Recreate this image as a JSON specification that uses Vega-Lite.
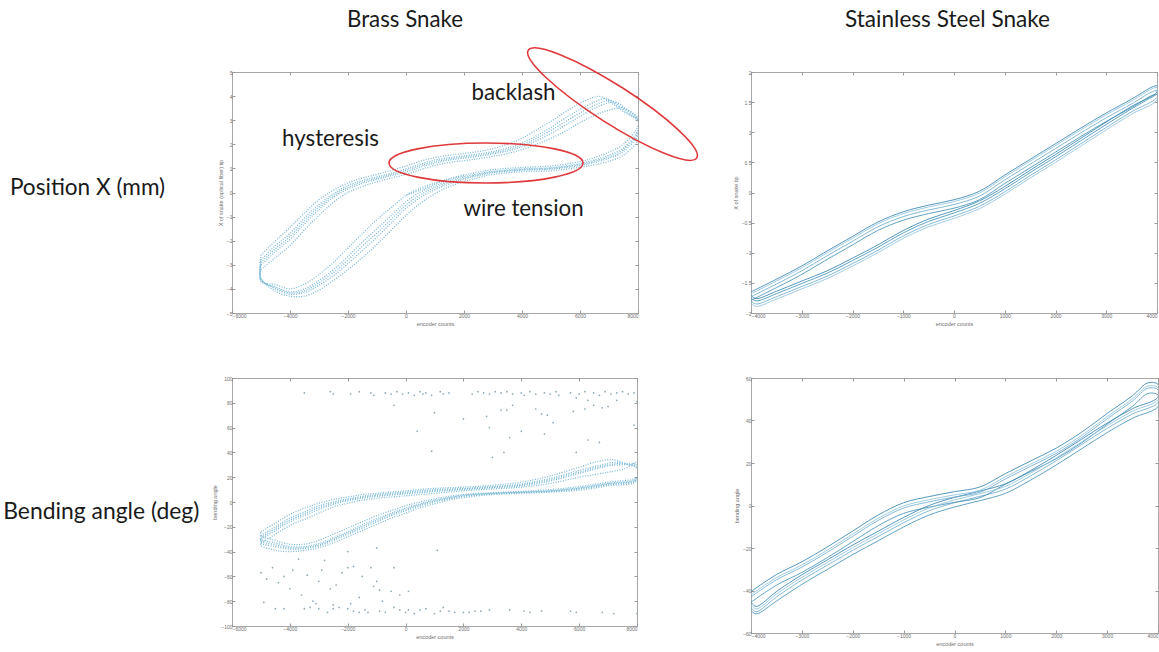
{
"$schema":"https://vega.github.io/schema/vega-lite/v6.json",
"padding":0,
"background":"white",
"config":{
 "view":{"stroke":"#a8a8a8","strokeWidth":1},
 "axis":{"grid":false,"domain":false,"labelFont":"Liberation Sans","labelFontSize":5,"labelColor":"#6f6f6f","titleFont":"Liberation Sans","titleFontSize":5.5,"titleFontWeight":"normal","titleColor":"#6f6f6f","tickColor":"#9a9a9a","tickSize":-3,"labelPadding":3,"titlePadding":3},
 "text":{"font":"Lato"}
},
"datasets":{
 "brassX":[
  {"l":"A","x":-5000,"y":-2.6},{"l":"A","x":-4500,"y":-2.0},{"l":"A","x":-4000,"y":-1.45},{"l":"A","x":-3500,"y":-0.85},{"l":"A","x":-3000,"y":-0.3},{"l":"A","x":-2500,"y":0.1},{"l":"A","x":-2000,"y":0.4},{"l":"A","x":-1500,"y":0.6},{"l":"A","x":-1000,"y":0.75},{"l":"A","x":-500,"y":0.92},{"l":"A","x":0,"y":1.1},{"l":"A","x":500,"y":1.3},{"l":"A","x":1000,"y":1.45},{"l":"A","x":1500,"y":1.55},{"l":"A","x":2000,"y":1.62},{"l":"A","x":2500,"y":1.7},{"l":"A","x":3000,"y":1.82},{"l":"A","x":3500,"y":2.0},{"l":"A","x":4000,"y":2.25},{"l":"A","x":4500,"y":2.6},{"l":"A","x":5000,"y":2.95},{"l":"A","x":5500,"y":3.35},{"l":"A","x":6000,"y":3.7},{"l":"A","x":6400,"y":3.92},{"l":"A","x":6700,"y":3.98},{"l":"A","x":7100,"y":3.7},{"l":"A","x":7500,"y":3.35},{"l":"A","x":8000,"y":2.95},{"l":"A","x":8000,"y":2.2},
  {"l":"A","x":7500,"y":1.55},{"l":"A","x":7000,"y":1.3},{"l":"A","x":6500,"y":1.15},{"l":"A","x":6000,"y":1.05},{"l":"A","x":5000,"y":0.9},{"l":"A","x":4000,"y":0.86},{"l":"A","x":3000,"y":0.75},{"l":"A","x":2500,"y":0.62},{"l":"A","x":2000,"y":0.45},{"l":"A","x":1500,"y":0.25},{"l":"A","x":1000,"y":-0.05},{"l":"A","x":500,"y":-0.45},{"l":"A","x":0,"y":-0.95},{"l":"A","x":-500,"y":-1.55},{"l":"A","x":-1000,"y":-2.15},{"l":"A","x":-1500,"y":-2.7},{"l":"A","x":-2000,"y":-3.2},{"l":"A","x":-2500,"y":-3.65},{"l":"A","x":-3000,"y":-4.05},{"l":"A","x":-3500,"y":-4.3},{"l":"A","x":-4000,"y":-4.3},{"l":"A","x":-4500,"y":-4.1},{"l":"A","x":-5000,"y":-3.55},{"l":"A","x":-5000,"y":-2.6},
  {"l":"B","x":-5000,"y":-2.8},{"l":"B","x":-4500,"y":-2.2},{"l":"B","x":-4000,"y":-1.7},{"l":"B","x":-3500,"y":-1.05},{"l":"B","x":-3000,"y":-0.5},{"l":"B","x":-2500,"y":-0.05},{"l":"B","x":-2000,"y":0.3},{"l":"B","x":-1500,"y":0.5},{"l":"B","x":-1000,"y":0.65},{"l":"B","x":-500,"y":0.8},{"l":"B","x":0,"y":0.98},{"l":"B","x":500,"y":1.18},{"l":"B","x":1000,"y":1.35},{"l":"B","x":1500,"y":1.45},{"l":"B","x":2000,"y":1.52},{"l":"B","x":2500,"y":1.6},{"l":"B","x":3000,"y":1.7},{"l":"B","x":3500,"y":1.85},{"l":"B","x":4000,"y":2.05},{"l":"B","x":4500,"y":2.35},{"l":"B","x":5000,"y":2.7},{"l":"B","x":5500,"y":3.1},{"l":"B","x":6000,"y":3.45},{"l":"B","x":6500,"y":3.75},{"l":"B","x":6900,"y":3.9},{"l":"B","x":7300,"y":3.6},{"l":"B","x":7700,"y":3.25},{"l":"B","x":8000,"y":3.0},{"l":"B","x":8000,"y":2.4},
  {"l":"B","x":7500,"y":1.7},{"l":"B","x":7000,"y":1.42},{"l":"B","x":6500,"y":1.25},{"l":"B","x":6000,"y":1.12},{"l":"B","x":5000,"y":0.97},{"l":"B","x":4000,"y":0.92},{"l":"B","x":3000,"y":0.82},{"l":"B","x":2500,"y":0.7},{"l":"B","x":2000,"y":0.55},{"l":"B","x":1500,"y":0.35},{"l":"B","x":1000,"y":0.12},{"l":"B","x":500,"y":-0.2},{"l":"B","x":0,"y":-0.65},{"l":"B","x":-500,"y":-1.25},{"l":"B","x":-1000,"y":-1.85},{"l":"B","x":-1500,"y":-2.4},{"l":"B","x":-2000,"y":-2.95},{"l":"B","x":-2500,"y":-3.45},{"l":"B","x":-3000,"y":-3.85},{"l":"B","x":-3500,"y":-4.15},{"l":"B","x":-4000,"y":-4.22},{"l":"B","x":-4500,"y":-4.0},{"l":"B","x":-5000,"y":-3.6},{"l":"B","x":-5000,"y":-2.8},
  {"l":"E","x":-5000,"y":-2.9},{"l":"E","x":-4500,"y":-2.33},{"l":"E","x":-4000,"y":-1.83},{"l":"E","x":-3500,"y":-1.18},{"l":"E","x":-3000,"y":-0.6},{"l":"E","x":-2500,"y":-0.12},{"l":"E","x":-2000,"y":0.22},{"l":"E","x":-1500,"y":0.44},{"l":"E","x":-1000,"y":0.6},{"l":"E","x":-500,"y":0.75},{"l":"E","x":0,"y":0.92},{"l":"E","x":500,"y":1.12},{"l":"E","x":1000,"y":1.28},{"l":"E","x":1500,"y":1.4},{"l":"E","x":2000,"y":1.47},{"l":"E","x":2500,"y":1.55},{"l":"E","x":3000,"y":1.65},{"l":"E","x":3500,"y":1.78},{"l":"E","x":4000,"y":1.97},{"l":"E","x":4500,"y":2.25},{"l":"E","x":5000,"y":2.58},{"l":"E","x":5500,"y":2.95},{"l":"E","x":6000,"y":3.3},{"l":"E","x":6500,"y":3.62},{"l":"E","x":7050,"y":3.82},{"l":"E","x":7450,"y":3.52},{"l":"E","x":7850,"y":3.18},{"l":"E","x":8000,"y":3.05},{"l":"E","x":8000,"y":2.5},
  {"l":"E","x":7500,"y":1.78},{"l":"E","x":7000,"y":1.48},{"l":"E","x":6500,"y":1.3},{"l":"E","x":6000,"y":1.16},{"l":"E","x":5000,"y":1.0},{"l":"E","x":4000,"y":0.95},{"l":"E","x":3000,"y":0.85},{"l":"E","x":2500,"y":0.74},{"l":"E","x":2000,"y":0.6},{"l":"E","x":1500,"y":0.42},{"l":"E","x":1000,"y":0.2},{"l":"E","x":500,"y":-0.09},{"l":"E","x":0,"y":-0.52},{"l":"E","x":-500,"y":-1.1},{"l":"E","x":-1000,"y":-1.68},{"l":"E","x":-1500,"y":-2.22},{"l":"E","x":-2000,"y":-2.8},{"l":"E","x":-2500,"y":-3.32},{"l":"E","x":-3000,"y":-3.75},{"l":"E","x":-3500,"y":-4.08},{"l":"E","x":-4000,"y":-4.17},{"l":"E","x":-4500,"y":-3.96},{"l":"E","x":-5000,"y":-3.62},{"l":"E","x":-5000,"y":-2.9},
  {"l":"C","x":-5000,"y":-3.0},{"l":"C","x":-4500,"y":-2.45},{"l":"C","x":-4000,"y":-1.95},{"l":"C","x":-3500,"y":-1.3},{"l":"C","x":-3000,"y":-0.7},{"l":"C","x":-2500,"y":-0.2},{"l":"C","x":-2000,"y":0.15},{"l":"C","x":-1500,"y":0.38},{"l":"C","x":-1000,"y":0.55},{"l":"C","x":-500,"y":0.7},{"l":"C","x":0,"y":0.85},{"l":"C","x":500,"y":1.05},{"l":"C","x":1000,"y":1.22},{"l":"C","x":1500,"y":1.35},{"l":"C","x":2000,"y":1.42},{"l":"C","x":2500,"y":1.5},{"l":"C","x":3000,"y":1.6},{"l":"C","x":3500,"y":1.72},{"l":"C","x":4000,"y":1.9},{"l":"C","x":4500,"y":2.15},{"l":"C","x":5000,"y":2.45},{"l":"C","x":5500,"y":2.8},{"l":"C","x":6000,"y":3.15},{"l":"C","x":6500,"y":3.5},{"l":"C","x":7200,"y":3.75},{"l":"C","x":7600,"y":3.45},{"l":"C","x":8000,"y":3.1},{"l":"C","x":8000,"y":2.6},
  {"l":"C","x":7500,"y":1.85},{"l":"C","x":7000,"y":1.55},{"l":"C","x":6500,"y":1.35},{"l":"C","x":6000,"y":1.2},{"l":"C","x":5000,"y":1.03},{"l":"C","x":4000,"y":0.98},{"l":"C","x":3000,"y":0.88},{"l":"C","x":2500,"y":0.78},{"l":"C","x":2000,"y":0.65},{"l":"C","x":1500,"y":0.48},{"l":"C","x":1000,"y":0.28},{"l":"C","x":500,"y":0.02},{"l":"C","x":0,"y":-0.38},{"l":"C","x":-500,"y":-0.95},{"l":"C","x":-1000,"y":-1.5},{"l":"C","x":-1500,"y":-2.05},{"l":"C","x":-2000,"y":-2.65},{"l":"C","x":-2500,"y":-3.2},{"l":"C","x":-3000,"y":-3.65},{"l":"C","x":-3500,"y":-4.0},{"l":"C","x":-4000,"y":-4.12},{"l":"C","x":-4500,"y":-3.92},{"l":"C","x":-5000,"y":-3.65},{"l":"C","x":-5000,"y":-3.0},
  {"l":"D","x":-5000,"y":-3.2},{"l":"D","x":-4500,"y":-2.7},{"l":"D","x":-4000,"y":-2.2},{"l":"D","x":-3500,"y":-1.55},{"l":"D","x":-3000,"y":-0.95},{"l":"D","x":-2500,"y":-0.4},{"l":"D","x":-2000,"y":0.0},{"l":"D","x":-1500,"y":0.25},{"l":"D","x":-1000,"y":0.45},{"l":"D","x":-500,"y":0.6},{"l":"D","x":0,"y":0.75},{"l":"D","x":500,"y":0.95},{"l":"D","x":1000,"y":1.12},{"l":"D","x":1500,"y":1.25},{"l":"D","x":2000,"y":1.32},{"l":"D","x":2500,"y":1.4},{"l":"D","x":3000,"y":1.5},{"l":"D","x":3500,"y":1.62},{"l":"D","x":4000,"y":1.78},{"l":"D","x":4500,"y":2.0},{"l":"D","x":5000,"y":2.25},{"l":"D","x":5500,"y":2.55},{"l":"D","x":6000,"y":2.9},{"l":"D","x":6500,"y":3.2},{"l":"D","x":7000,"y":3.42},{"l":"D","x":7500,"y":3.5},{"l":"D","x":8000,"y":3.05},{"l":"D","x":8000,"y":2.75},
  {"l":"D","x":7500,"y":2.0},{"l":"D","x":7000,"y":1.68},{"l":"D","x":6500,"y":1.45},{"l":"D","x":6000,"y":1.28},{"l":"D","x":5000,"y":1.1},{"l":"D","x":4000,"y":1.04},{"l":"D","x":3000,"y":0.95},{"l":"D","x":2500,"y":0.85},{"l":"D","x":2000,"y":0.72},{"l":"D","x":1500,"y":0.58},{"l":"D","x":1000,"y":0.4},{"l":"D","x":500,"y":0.18},{"l":"D","x":0,"y":-0.12},{"l":"D","x":-500,"y":-0.62},{"l":"D","x":-1000,"y":-1.12},{"l":"D","x":-1500,"y":-1.7},{"l":"D","x":-2000,"y":-2.3},{"l":"D","x":-2500,"y":-2.9},{"l":"D","x":-3000,"y":-3.4},{"l":"D","x":-3500,"y":-3.8},{"l":"D","x":-4000,"y":-4.0},{"l":"D","x":-4500,"y":-3.82},{"l":"D","x":-5000,"y":-3.7},{"l":"D","x":-5000,"y":-3.2},
  {"l":"S","x":0,"y":-0.1},{"l":"S","x":500,"y":0.1},{"l":"S","x":1000,"y":0.35},{"l":"S","x":1500,"y":0.55},{"l":"S","x":2000,"y":0.7}
 ],
 "steelX":[
  {"l":"A","x":-4000,"y":-1.65},{"l":"A","x":-3500,"y":-1.44},{"l":"A","x":-3000,"y":-1.22},{"l":"A","x":-2500,"y":-0.97},{"l":"A","x":-2000,"y":-0.73},{"l":"A","x":-1500,"y":-0.49},{"l":"A","x":-1000,"y":-0.32},{"l":"A","x":-500,"y":-0.21},{"l":"A","x":0,"y":-0.12},{"l":"A","x":500,"y":0.02},{"l":"A","x":1000,"y":0.29},{"l":"A","x":1500,"y":0.55},{"l":"A","x":2000,"y":0.81},{"l":"A","x":2500,"y":1.07},{"l":"A","x":3000,"y":1.32},{"l":"A","x":3500,"y":1.55},{"l":"A","x":3900,"y":1.75},{"l":"A","x":4000,"y":1.77},
  {"l":"A","x":4000,"y":1.67},{"l":"A","x":3500,"y":1.43},{"l":"A","x":3000,"y":1.17},{"l":"A","x":2500,"y":0.9},{"l":"A","x":2000,"y":0.63},{"l":"A","x":1500,"y":0.37},{"l":"A","x":1000,"y":0.1},{"l":"A","x":500,"y":-0.14},{"l":"A","x":0,"y":-0.3},{"l":"A","x":-500,"y":-0.44},{"l":"A","x":-1000,"y":-0.63},{"l":"A","x":-1500,"y":-0.87},{"l":"A","x":-2000,"y":-1.09},{"l":"A","x":-2500,"y":-1.3},{"l":"A","x":-3000,"y":-1.47},{"l":"A","x":-3500,"y":-1.64},{"l":"A","x":-3900,"y":-1.76},{"l":"A","x":-4000,"y":-1.71},
  {"l":"B","x":-4000,"y":-1.73},{"l":"B","x":-3500,"y":-1.52},{"l":"B","x":-3000,"y":-1.3},{"l":"B","x":-2500,"y":-1.05},{"l":"B","x":-2000,"y":-0.81},{"l":"B","x":-1500,"y":-0.57},{"l":"B","x":-1000,"y":-0.4},{"l":"B","x":-500,"y":-0.29},{"l":"B","x":0,"y":-0.2},{"l":"B","x":500,"y":-0.06},{"l":"B","x":1000,"y":0.21},{"l":"B","x":1500,"y":0.47},{"l":"B","x":2000,"y":0.73},{"l":"B","x":2500,"y":0.99},{"l":"B","x":3000,"y":1.24},{"l":"B","x":3500,"y":1.47},{"l":"B","x":3900,"y":1.67},{"l":"B","x":4000,"y":1.69},
  {"l":"B","x":4000,"y":1.58},{"l":"B","x":3500,"y":1.34},{"l":"B","x":3000,"y":1.08},{"l":"B","x":2500,"y":0.81},{"l":"B","x":2000,"y":0.54},{"l":"B","x":1500,"y":0.28},{"l":"B","x":1000,"y":0.01},{"l":"B","x":500,"y":-0.23},{"l":"B","x":0,"y":-0.39},{"l":"B","x":-500,"y":-0.53},{"l":"B","x":-1000,"y":-0.72},{"l":"B","x":-1500,"y":-0.96},{"l":"B","x":-2000,"y":-1.18},{"l":"B","x":-2500,"y":-1.39},{"l":"B","x":-3000,"y":-1.56},{"l":"B","x":-3500,"y":-1.73},{"l":"B","x":-3900,"y":-1.85},{"l":"B","x":-4000,"y":-1.8},
  {"l":"C","x":-4000,"y":-1.79},{"l":"C","x":-3500,"y":-1.58},{"l":"C","x":-3000,"y":-1.36},{"l":"C","x":-2500,"y":-1.11},{"l":"C","x":-2000,"y":-0.87},{"l":"C","x":-1500,"y":-0.63},{"l":"C","x":-1000,"y":-0.46},{"l":"C","x":-500,"y":-0.35},{"l":"C","x":0,"y":-0.26},{"l":"C","x":500,"y":-0.12},{"l":"C","x":1000,"y":0.15},{"l":"C","x":1500,"y":0.41},{"l":"C","x":2000,"y":0.67},{"l":"C","x":2500,"y":0.93},{"l":"C","x":3000,"y":1.18},{"l":"C","x":3500,"y":1.41},{"l":"C","x":3900,"y":1.61},{"l":"C","x":4000,"y":1.63},
  {"l":"C","x":4000,"y":1.63},{"l":"C","x":3500,"y":1.39},{"l":"C","x":3000,"y":1.13},{"l":"C","x":2500,"y":0.86},{"l":"C","x":2000,"y":0.59},{"l":"C","x":1500,"y":0.33},{"l":"C","x":1000,"y":0.06},{"l":"C","x":500,"y":-0.18},{"l":"C","x":0,"y":-0.34},{"l":"C","x":-500,"y":-0.48},{"l":"C","x":-1000,"y":-0.67},{"l":"C","x":-1500,"y":-0.91},{"l":"C","x":-2000,"y":-1.13},{"l":"C","x":-2500,"y":-1.34},{"l":"C","x":-3000,"y":-1.51},{"l":"C","x":-3500,"y":-1.68},{"l":"C","x":-3900,"y":-1.8},{"l":"C","x":-4000,"y":-1.75},
  {"l":"D","x":-4000,"y":-1.68},{"l":"D","x":-3500,"y":-1.47},{"l":"D","x":-3000,"y":-1.25},{"l":"D","x":-2500,"y":-1.0},{"l":"D","x":-2000,"y":-0.76},{"l":"D","x":-1500,"y":-0.52},{"l":"D","x":-1000,"y":-0.35},{"l":"D","x":-500,"y":-0.24},{"l":"D","x":0,"y":-0.15},{"l":"D","x":500,"y":-0.01},{"l":"D","x":1000,"y":0.26},{"l":"D","x":1500,"y":0.52},{"l":"D","x":2000,"y":0.78},{"l":"D","x":2500,"y":1.04},{"l":"D","x":3000,"y":1.29},{"l":"D","x":3500,"y":1.52},{"l":"D","x":3900,"y":1.72},{"l":"D","x":4000,"y":1.74},
  {"l":"D","x":4000,"y":1.54},{"l":"D","x":3500,"y":1.3},{"l":"D","x":3000,"y":1.04},{"l":"D","x":2500,"y":0.77},{"l":"D","x":2000,"y":0.5},{"l":"D","x":1500,"y":0.24},{"l":"D","x":1000,"y":-0.03},{"l":"D","x":500,"y":-0.27},{"l":"D","x":0,"y":-0.43},{"l":"D","x":-500,"y":-0.57},{"l":"D","x":-1000,"y":-0.76},{"l":"D","x":-1500,"y":-1.0},{"l":"D","x":-2000,"y":-1.22},{"l":"D","x":-2500,"y":-1.43},{"l":"D","x":-3000,"y":-1.6},{"l":"D","x":-3500,"y":-1.77},{"l":"D","x":-3900,"y":-1.89},{"l":"D","x":-4000,"y":-1.84}
 ],
 "brassA":[
  {"l":"A","x":-5000,"y":-24},{"l":"A","x":-4500,"y":-17},{"l":"A","x":-4000,"y":-10},{"l":"A","x":-3500,"y":-5},{"l":"A","x":-3000,"y":-1},{"l":"A","x":-2500,"y":2},{"l":"A","x":-2000,"y":4},{"l":"A","x":-1500,"y":6},{"l":"A","x":-1000,"y":7},{"l":"A","x":0,"y":9},{"l":"A","x":1000,"y":11},{"l":"A","x":2000,"y":12},{"l":"A","x":3000,"y":13.5},{"l":"A","x":4000,"y":16},{"l":"A","x":5000,"y":21},{"l":"A","x":6000,"y":28},{"l":"A","x":6700,"y":33},{"l":"A","x":7200,"y":34},{"l":"A","x":7600,"y":31},{"l":"A","x":8000,"y":27},{"l":"A","x":8000,"y":20},
  {"l":"A","x":7000,"y":16},{"l":"A","x":6000,"y":12.5},{"l":"A","x":5000,"y":10},{"l":"A","x":4000,"y":8.5},{"l":"A","x":3000,"y":7.5},{"l":"A","x":2000,"y":6},{"l":"A","x":1500,"y":4.5},{"l":"A","x":1000,"y":2.5},{"l":"A","x":500,"y":0},{"l":"A","x":0,"y":-3},{"l":"A","x":-500,"y":-7},{"l":"A","x":-1000,"y":-11},{"l":"A","x":-1500,"y":-16},{"l":"A","x":-2000,"y":-21},{"l":"A","x":-2500,"y":-26},{"l":"A","x":-3000,"y":-31},{"l":"A","x":-3500,"y":-34},{"l":"A","x":-4000,"y":-34},{"l":"A","x":-4500,"y":-31},{"l":"A","x":-5000,"y":-27},{"l":"A","x":-5000,"y":-24},
  {"l":"B","x":-5000,"y":-27},{"l":"B","x":-4500,"y":-20},{"l":"B","x":-4000,"y":-13},{"l":"B","x":-3500,"y":-8},{"l":"B","x":-3000,"y":-3},{"l":"B","x":-2500,"y":0},{"l":"B","x":-2000,"y":2.5},{"l":"B","x":-1500,"y":4.5},{"l":"B","x":-1000,"y":6},{"l":"B","x":0,"y":8},{"l":"B","x":1000,"y":10},{"l":"B","x":2000,"y":11},{"l":"B","x":3000,"y":12.5},{"l":"B","x":4000,"y":14.5},{"l":"B","x":5000,"y":19},{"l":"B","x":6000,"y":25.5},{"l":"B","x":6800,"y":30},{"l":"B","x":7300,"y":32},{"l":"B","x":7700,"y":30},{"l":"B","x":8000,"y":28},{"l":"B","x":8000,"y":19},
  {"l":"B","x":7000,"y":15},{"l":"B","x":6000,"y":11.5},{"l":"B","x":5000,"y":9},{"l":"B","x":4000,"y":8},{"l":"B","x":3000,"y":7},{"l":"B","x":2000,"y":5.5},{"l":"B","x":1500,"y":3.5},{"l":"B","x":1000,"y":1.5},{"l":"B","x":500,"y":-1.5},{"l":"B","x":0,"y":-5},{"l":"B","x":-500,"y":-9},{"l":"B","x":-1000,"y":-13.5},{"l":"B","x":-1500,"y":-18.5},{"l":"B","x":-2000,"y":-24},{"l":"B","x":-2500,"y":-29},{"l":"B","x":-3000,"y":-33.5},{"l":"B","x":-3500,"y":-36},{"l":"B","x":-4000,"y":-36},{"l":"B","x":-4500,"y":-33},{"l":"B","x":-5000,"y":-30},{"l":"B","x":-5000,"y":-27},
  {"l":"E","x":-5000,"y":-28.5},{"l":"E","x":-4500,"y":-21.5},{"l":"E","x":-4000,"y":-14.5},{"l":"E","x":-3500,"y":-9.5},{"l":"E","x":-3000,"y":-4.5},{"l":"E","x":-2500,"y":-1},{"l":"E","x":-2000,"y":1.8},{"l":"E","x":-1500,"y":3.8},{"l":"E","x":-1000,"y":5.2},{"l":"E","x":0,"y":7.2},{"l":"E","x":1000,"y":9.2},{"l":"E","x":2000,"y":10.5},{"l":"E","x":3000,"y":12},{"l":"E","x":4000,"y":13.8},{"l":"E","x":5000,"y":18},{"l":"E","x":6000,"y":24.2},{"l":"E","x":6900,"y":29.5},{"l":"E","x":7400,"y":31},{"l":"E","x":7800,"y":30},{"l":"E","x":8000,"y":29},{"l":"E","x":8000,"y":18.5},
  {"l":"E","x":7000,"y":14.5},{"l":"E","x":6000,"y":11},{"l":"E","x":5000,"y":8.8},{"l":"E","x":4000,"y":7.8},{"l":"E","x":3000,"y":6.8},{"l":"E","x":2000,"y":5},{"l":"E","x":1500,"y":3},{"l":"E","x":1000,"y":0.8},{"l":"E","x":500,"y":-2.2},{"l":"E","x":0,"y":-6},{"l":"E","x":-500,"y":-10},{"l":"E","x":-1000,"y":-14.8},{"l":"E","x":-1500,"y":-19.8},{"l":"E","x":-2000,"y":-25},{"l":"E","x":-2500,"y":-30},{"l":"E","x":-3000,"y":-34.5},{"l":"E","x":-3500,"y":-36.8},{"l":"E","x":-4000,"y":-37},{"l":"E","x":-4500,"y":-34.5},{"l":"E","x":-5000,"y":-31.5},{"l":"E","x":-5000,"y":-28.5},
  {"l":"C","x":-5000,"y":-30},{"l":"C","x":-4500,"y":-23},{"l":"C","x":-4000,"y":-16},{"l":"C","x":-3500,"y":-11},{"l":"C","x":-3000,"y":-6},{"l":"C","x":-2500,"y":-2},{"l":"C","x":-2000,"y":1},{"l":"C","x":-1500,"y":3},{"l":"C","x":-1000,"y":4.5},{"l":"C","x":0,"y":6.5},{"l":"C","x":1000,"y":8.5},{"l":"C","x":2000,"y":10},{"l":"C","x":3000,"y":11.5},{"l":"C","x":4000,"y":13},{"l":"C","x":5000,"y":17},{"l":"C","x":6000,"y":23},{"l":"C","x":7000,"y":29},{"l":"C","x":7500,"y":30},{"l":"C","x":8000,"y":30},{"l":"C","x":8000,"y":18},
  {"l":"C","x":7000,"y":14},{"l":"C","x":6000,"y":10.5},{"l":"C","x":5000,"y":8.5},{"l":"C","x":4000,"y":7.5},{"l":"C","x":3000,"y":6.5},{"l":"C","x":2000,"y":4.5},{"l":"C","x":1500,"y":2.5},{"l":"C","x":1000,"y":0},{"l":"C","x":500,"y":-3},{"l":"C","x":0,"y":-7},{"l":"C","x":-500,"y":-11},{"l":"C","x":-1000,"y":-16},{"l":"C","x":-1500,"y":-21},{"l":"C","x":-2000,"y":-26},{"l":"C","x":-2500,"y":-31},{"l":"C","x":-3000,"y":-35.5},{"l":"C","x":-3500,"y":-37.5},{"l":"C","x":-4000,"y":-38},{"l":"C","x":-4500,"y":-36},{"l":"C","x":-5000,"y":-33},{"l":"C","x":-5000,"y":-30},
  {"l":"D","x":-5000,"y":-33},{"l":"D","x":-4500,"y":-26},{"l":"D","x":-4000,"y":-19},{"l":"D","x":-3500,"y":-14},{"l":"D","x":-3000,"y":-9},{"l":"D","x":-2500,"y":-4},{"l":"D","x":-2000,"y":-1},{"l":"D","x":-1500,"y":1.5},{"l":"D","x":-1000,"y":3},{"l":"D","x":0,"y":5},{"l":"D","x":1000,"y":7},{"l":"D","x":2000,"y":9},{"l":"D","x":3000,"y":10.5},{"l":"D","x":4000,"y":12},{"l":"D","x":5000,"y":15},{"l":"D","x":6000,"y":20},{"l":"D","x":7000,"y":24},{"l":"D","x":7600,"y":27},{"l":"D","x":8000,"y":32},{"l":"D","x":8000,"y":17},
  {"l":"D","x":7000,"y":13},{"l":"D","x":6000,"y":9.5},{"l":"D","x":5000,"y":8},{"l":"D","x":4000,"y":7},{"l":"D","x":3000,"y":6},{"l":"D","x":2000,"y":3.5},{"l":"D","x":1500,"y":1.5},{"l":"D","x":1000,"y":-1.5},{"l":"D","x":500,"y":-4.5},{"l":"D","x":0,"y":-9},{"l":"D","x":-500,"y":-13},{"l":"D","x":-1000,"y":-18},{"l":"D","x":-1500,"y":-23},{"l":"D","x":-2000,"y":-28},{"l":"D","x":-2500,"y":-33},{"l":"D","x":-3000,"y":-37},{"l":"D","x":-3500,"y":-39},{"l":"D","x":-4000,"y":-40},{"l":"D","x":-4500,"y":-39},{"l":"D","x":-5000,"y":-35},{"l":"D","x":-5000,"y":-33}
 ],
 "brassOut":[
  {"x":-3500,"y":88},{"x":-2600,"y":89},{"x":-2500,"y":87},{"x":-1900,"y":87},{"x":-1600,"y":89},{"x":-1200,"y":88},{"x":-1100,"y":86},{"x":-700,"y":88},{"x":-500,"y":87},{"x":-300,"y":89},{"x":-100,"y":87},{"x":100,"y":88},{"x":300,"y":86},{"x":500,"y":89},{"x":600,"y":87},{"x":700,"y":88},{"x":900,"y":86},{"x":1200,"y":89},{"x":1300,"y":87},{"x":1500,"y":88},{"x":2300,"y":87},{"x":2500,"y":89},{"x":2700,"y":88},{"x":2900,"y":87},{"x":3100,"y":89},{"x":3300,"y":88},{"x":3500,"y":89},{"x":3700,"y":87},{"x":4000,"y":88},{"x":4100,"y":86},{"x":4300,"y":89},{"x":4500,"y":87},{"x":4800,"y":88},{"x":5000,"y":87},{"x":5200,"y":89},{"x":5300,"y":86},{"x":5700,"y":88},{"x":6000,"y":87},{"x":6200,"y":89},{"x":6500,"y":88},{"x":6700,"y":86},{"x":6900,"y":89},{"x":7100,"y":87},{"x":7300,"y":88},{"x":7500,"y":89},{"x":7700,"y":87},{"x":7900,"y":88},
  {"x":-400,"y":78},{"x":3300,"y":74},{"x":3500,"y":74},{"x":3700,"y":78},{"x":4500,"y":75},{"x":4700,"y":71},{"x":5800,"y":73},{"x":6200,"y":75},{"x":6500,"y":78},{"x":6800,"y":76},{"x":7000,"y":77},{"x":7300,"y":82},{"x":8000,"y":81},{"x":1000,"y":72},{"x":5900,"y":84},{"x":6300,"y":82},
  {"x":2000,"y":67},{"x":2800,"y":69},{"x":2900,"y":60},{"x":4800,"y":55},{"x":5100,"y":64},{"x":400,"y":57},{"x":4000,"y":57},{"x":3600,"y":52},{"x":900,"y":41},{"x":3400,"y":40},{"x":3000,"y":36},{"x":7900,"y":62},{"x":6300,"y":50},{"x":6700,"y":48},{"x":5900,"y":40},{"x":4900,"y":70},
  {"x":-4500,"y":-86},{"x":-4200,"y":-86},{"x":-3500,"y":-86},{"x":-3300,"y":-85},{"x":-3000,"y":-86},{"x":-2700,"y":-89},{"x":-2500,"y":-86},{"x":-2300,"y":-85},{"x":-2000,"y":-86},{"x":-1800,"y":-88},{"x":-1600,"y":-89},{"x":-1400,"y":-87},{"x":-1300,"y":-89},{"x":-900,"y":-88},{"x":-700,"y":-89},{"x":-400,"y":-85},{"x":-200,"y":-87},{"x":0,"y":-89},{"x":100,"y":-87},{"x":300,"y":-90},{"x":500,"y":-87},{"x":700,"y":-86},{"x":1000,"y":-90},{"x":1200,"y":-88},{"x":1300,"y":-85},{"x":1500,"y":-88},{"x":1700,"y":-89},{"x":2000,"y":-89},{"x":2200,"y":-89},{"x":2400,"y":-88},{"x":2600,"y":-88},{"x":2900,"y":-87},{"x":3600,"y":-87},{"x":4100,"y":-88},{"x":4300,"y":-89},{"x":4700,"y":-88},{"x":5700,"y":-88},{"x":5900,"y":-89},{"x":6800,"y":-89},{"x":7200,"y":-90},{"x":8000,"y":-90},
  {"x":-5000,"y":-57},{"x":-4800,"y":-62},{"x":-4600,"y":-53},{"x":-4400,"y":-65},{"x":-4200,"y":-60},{"x":-4000,"y":-70},{"x":-3900,"y":-55},{"x":-3700,"y":-46},{"x":-3600,"y":-75},{"x":-3400,"y":-59},{"x":-3200,"y":-80},{"x":-3000,"y":-64},{"x":-2900,"y":-55},{"x":-2800,"y":-47},{"x":-2600,"y":-70},{"x":-2400,"y":-67},{"x":-2200,"y":-57},{"x":-2000,"y":-53},{"x":-1800,"y":-52},{"x":-1600,"y":-77},{"x":-1500,"y":-60},{"x":-1200,"y":-53},{"x":-1100,"y":-68},{"x":-1000,"y":-64},{"x":-900,"y":-71},{"x":-800,"y":-80},{"x":-500,"y":-72},{"x":-400,"y":-53},{"x":-200,"y":-75},{"x":100,"y":-72},{"x":-2000,"y":-40},{"x":1100,"y":-39},{"x":-1000,"y":-37},{"x":-4900,"y":-81},{"x":-2500,"y":-83},{"x":-3100,"y":-82},{"x":-1900,"y":-82}
 ],
 "steelA":[
  {"l":"A","x":-4000,"y":-40.5},{"l":"A","x":-3500,"y":-32.5},{"l":"A","x":-3000,"y":-26.5},{"l":"A","x":-2500,"y":-19.5},{"l":"A","x":-2000,"y":-12},{"l":"A","x":-1500,"y":-4.5},{"l":"A","x":-1000,"y":1.3},{"l":"A","x":-500,"y":4.2},{"l":"A","x":0,"y":6.5},{"l":"A","x":500,"y":8.7},{"l":"A","x":1000,"y":15},{"l":"A","x":1500,"y":21},{"l":"A","x":2000,"y":27},{"l":"A","x":2500,"y":34.5},{"l":"A","x":3000,"y":43.3},{"l":"A","x":3500,"y":51.7},{"l":"A","x":3800,"y":57.7},{"l":"A","x":4000,"y":57},
  {"l":"A","x":4000,"y":51},{"l":"A","x":3500,"y":45.6},{"l":"A","x":3000,"y":38.8},{"l":"A","x":2500,"y":31.2},{"l":"A","x":2000,"y":23.6},{"l":"A","x":1500,"y":16.5},{"l":"A","x":1000,"y":10.2},{"l":"A","x":500,"y":6.8},{"l":"A","x":0,"y":3.8},{"l":"A","x":-500,"y":0},{"l":"A","x":-1000,"y":-5.6},{"l":"A","x":-1500,"y":-12.1},{"l":"A","x":-2000,"y":-18.6},{"l":"A","x":-2500,"y":-25.6},{"l":"A","x":-3000,"y":-32.6},{"l":"A","x":-3500,"y":-40.5},{"l":"A","x":-3900,"y":-47.5},{"l":"A","x":-4000,"y":-45.5},
  {"l":"B","x":-4000,"y":-43},{"l":"B","x":-3500,"y":-35},{"l":"B","x":-3000,"y":-29},{"l":"B","x":-2500,"y":-22},{"l":"B","x":-2000,"y":-14.5},{"l":"B","x":-1500,"y":-7},{"l":"B","x":-1000,"y":-1.2},{"l":"B","x":-500,"y":1.7},{"l":"B","x":0,"y":4},{"l":"B","x":500,"y":6.2},{"l":"B","x":1000,"y":12.5},{"l":"B","x":1500,"y":18.5},{"l":"B","x":2000,"y":24.5},{"l":"B","x":2500,"y":32},{"l":"B","x":3000,"y":40.8},{"l":"B","x":3500,"y":49.2},{"l":"B","x":3800,"y":55.2},{"l":"B","x":4000,"y":54.5},
  {"l":"B","x":4000,"y":48.5},{"l":"B","x":3500,"y":43.1},{"l":"B","x":3000,"y":36.3},{"l":"B","x":2500,"y":28.7},{"l":"B","x":2000,"y":21.1},{"l":"B","x":1500,"y":14},{"l":"B","x":1000,"y":7.7},{"l":"B","x":500,"y":4.3},{"l":"B","x":0,"y":1.3},{"l":"B","x":-500,"y":-2.5},{"l":"B","x":-1000,"y":-8.1},{"l":"B","x":-1500,"y":-14.6},{"l":"B","x":-2000,"y":-21.1},{"l":"B","x":-2500,"y":-28.1},{"l":"B","x":-3000,"y":-35.1},{"l":"B","x":-3500,"y":-43},{"l":"B","x":-3900,"y":-50},{"l":"B","x":-4000,"y":-48},
  {"l":"C","x":-4000,"y":-45.5},{"l":"C","x":-3500,"y":-37.5},{"l":"C","x":-3000,"y":-31.5},{"l":"C","x":-2500,"y":-24.5},{"l":"C","x":-2000,"y":-17},{"l":"C","x":-1500,"y":-9.5},{"l":"C","x":-1000,"y":-3.7},{"l":"C","x":-500,"y":-0.8},{"l":"C","x":0,"y":1.5},{"l":"C","x":500,"y":3.7},{"l":"C","x":1000,"y":10},{"l":"C","x":1500,"y":16},{"l":"C","x":2000,"y":22},{"l":"C","x":2500,"y":29.5},{"l":"C","x":3000,"y":38.3},{"l":"C","x":3500,"y":46.7},{"l":"C","x":3800,"y":52.7},{"l":"C","x":4000,"y":52},
  {"l":"C","x":4000,"y":46.5},{"l":"C","x":3500,"y":41.1},{"l":"C","x":3000,"y":34.3},{"l":"C","x":2500,"y":26.7},{"l":"C","x":2000,"y":19.1},{"l":"C","x":1500,"y":12},{"l":"C","x":1000,"y":5.7},{"l":"C","x":500,"y":2.3},{"l":"C","x":0,"y":-0.7},{"l":"C","x":-500,"y":-4.5},{"l":"C","x":-1000,"y":-10.1},{"l":"C","x":-1500,"y":-16.6},{"l":"C","x":-2000,"y":-23.1},{"l":"C","x":-2500,"y":-30.1},{"l":"C","x":-3000,"y":-37.1},{"l":"C","x":-3500,"y":-45},{"l":"C","x":-3900,"y":-51},{"l":"C","x":-4000,"y":-49.5},
  {"l":"D","x":-4000,"y":-42},{"l":"D","x":-3500,"y":-34},{"l":"D","x":-3000,"y":-28},{"l":"D","x":-2500,"y":-21},{"l":"D","x":-2000,"y":-13.5},{"l":"D","x":-1500,"y":-6},{"l":"D","x":-1000,"y":-0.2},{"l":"D","x":-500,"y":2.7},{"l":"D","x":0,"y":5},{"l":"D","x":500,"y":7.2},{"l":"D","x":1000,"y":13.5},{"l":"D","x":1500,"y":19.5},{"l":"D","x":2000,"y":25.5},{"l":"D","x":2500,"y":33},{"l":"D","x":3000,"y":41.8},{"l":"D","x":3500,"y":50.2},{"l":"D","x":3800,"y":56.2},{"l":"D","x":4000,"y":55.5},
  {"l":"D","x":4000,"y":49.8},{"l":"D","x":3500,"y":44.4},{"l":"D","x":3000,"y":37.6},{"l":"D","x":2500,"y":30},{"l":"D","x":2000,"y":22.4},{"l":"D","x":1500,"y":15.3},{"l":"D","x":1000,"y":9},{"l":"D","x":500,"y":5.6},{"l":"D","x":0,"y":2.6},{"l":"D","x":-500,"y":-1.2},{"l":"D","x":-1000,"y":-6.8},{"l":"D","x":-1500,"y":-13.3},{"l":"D","x":-2000,"y":-19.8},{"l":"D","x":-2500,"y":-26.8},{"l":"D","x":-3000,"y":-33.8},{"l":"D","x":-3500,"y":-41.7},{"l":"D","x":-3900,"y":-48.7},{"l":"D","x":-4000,"y":-46.7}
 ]
},
"columns":3,
"spacing":{"row":65,"column":113},
"bounds":"flush","align":"each","center":false,
"concat":[
 {"width":119,"height":7,"view":{"stroke":null},"data":{"values":[]},"mark":{"type":"text"},"encoding":{"text":{"field":"t"}}},
 {"width":346,"height":7,"view":{"stroke":null},"data":{"values":[{"t":"Brass Snake"}]},"mark":{"type":"text","font":"Lato","fontSize":22.3,"color":"#1a1a1a","baseline":"alphabetic","dy":23.1},"encoding":{"text":{"field":"t"}}},
 {"width":393,"height":7,"view":{"stroke":null},"data":{"values":[{"t":"Stainless Steel Snake"}]},"mark":{"type":"text","font":"Lato","fontSize":22.6,"color":"#1a1a1a","baseline":"alphabetic","dy":23.1},"encoding":{"text":{"field":"t"}}},

 {"width":119,"height":241,"view":{"stroke":null},"data":{"values":[{"t":"Position X (mm)"}]},"mark":{"type":"text","font":"Lato","fontSize":22.6,"color":"#1a1a1a","baseline":"alphabetic","dx":28,"dy":2.5},"encoding":{"text":{"field":"t"}}},
 {"width":406,"height":241,
  "layer":[
    {"data":{"name":"brassX"},"mark":{"type":"line","strokeDash":[1,1.5],"strokeWidth":1.3,"color":"#7cbad8","interpolate":"catmull-rom","clip":true},
     "encoding":{
       "x":{"field":"x","type":"quantitative","scale":{"domain":[-6000,8000],"nice":false,"zero":false},"axis":{"values":[-6000,-4000,-2000,0,2000,4000,6000,8000],"format":"d","title":"encoder counts"}},
       "y":{"field":"y","type":"quantitative","scale":{"domain":[-5,5],"nice":false,"zero":false},"axis":{"values":[-5,-4,-3,-2,-1,0,1,2,3,4,5],"format":"d","title":"X of snake (optical fiber) tip"}},
       "detail":{"field":"l"},"order":{"value":null}}},
    {"data":{"name":"brassX"},"mark":{"type":"point","opacity":0},
     "encoding":{
       "x":{"field":"x","type":"quantitative","scale":{"domain":[-6000,8000],"nice":false,"zero":false},"axis":{"orient":"top","values":[-6000,-4000,-2000,0,2000,4000,6000,8000],"labels":false,"title":null}},
       "y":{"field":"y","type":"quantitative","scale":{"domain":[-5,5],"nice":false,"zero":false},"axis":{"orient":"right","values":[-5,-4,-3,-2,-1,0,1,2,3,4,5],"labels":false,"title":null}}}},
    {"data":{"values":[{"x":2759,"y":1.224}]},"mark":{"type":"point","shape":"M-1,0A1,0.206,0,1,1,1,0A1,0.206,0,1,1,-1,0Z","filled":false,"stroke":"#e0393b","strokeWidth":1.6,"size":37636,"opacity":1},
     "encoding":{"x":{"field":"x","type":"quantitative","axis":null},"y":{"field":"y","type":"quantitative","axis":null}}},
    {"data":{"values":[{"x":7121,"y":3.67}]},"mark":{"type":"point","shape":"M-1,0A1,0.19,0,1,1,1,0A1,0.19,0,1,1,-1,0Z","filled":false,"stroke":"#e0393b","strokeWidth":1.6,"size":40000,"angle":32.6,"opacity":1},
     "encoding":{"x":{"field":"x","type":"quantitative","axis":null},"y":{"field":"y","type":"quantitative","axis":null}}},
    {"data":{"values":[{"t":"hysteresis","x":-2604,"y":1.93},{"t":"backlash","x":3707,"y":3.84},{"t":"wire tension","x":4052,"y":-0.96}]},"mark":{"type":"text","font":"Lato","fontSize":22.3,"color":"#1a1a1a","baseline":"alphabetic"},
     "encoding":{"x":{"field":"x","type":"quantitative","axis":null},"y":{"field":"y","type":"quantitative","axis":null},"text":{"field":"t"}}}
  ],
  "resolve":{"axis":{"x":"independent","y":"independent"}}},
 {"width":406,"height":241,
  "layer":[
    {"data":{"name":"steelX"},"mark":{"type":"line","strokeWidth":0.9,"opacity":0.9,"interpolate":"catmull-rom","clip":true},
     "encoding":{
       "x":{"field":"x","type":"quantitative","scale":{"domain":[-4000,4000],"nice":false,"zero":false},"axis":{"values":[-4000,-3000,-2000,-1000,0,1000,2000,3000,4000],"format":"d","title":"encoder counts","labelFlush":true}},
       "y":{"field":"y","type":"quantitative","scale":{"domain":[-2,2],"nice":false,"zero":false},"axis":{"values":[-2,-1.5,-1,-0.5,0,0.5,1,1.5,2],"format":".1~f","title":"X of snake tip"}},
       "color":{"field":"l","type":"nominal","legend":null,"scale":{"range":["#2f7fad","#6aa9cc","#3d8db6","#8dc0dc"]}},
       "order":{"value":null}}},
    {"data":{"name":"steelX"},"mark":{"type":"point","opacity":0},
     "encoding":{
       "x":{"field":"x","type":"quantitative","scale":{"domain":[-4000,4000],"nice":false,"zero":false},"axis":{"orient":"top","values":[-4000,-3000,-2000,-1000,0,1000,2000,3000,4000],"labels":false,"title":null}},
       "y":{"field":"y","type":"quantitative","scale":{"domain":[-2,2],"nice":false,"zero":false},"axis":{"orient":"right","values":[-2,-1.5,-1,-0.5,0,0.5,1,1.5,2],"labels":false,"title":null}}}}
  ],
  "resolve":{"axis":{"x":"independent","y":"independent"}}},

 {"width":119,"height":248,"view":{"stroke":null},"data":{"values":[{"t":"Bending angle (deg)"}]},"mark":{"type":"text","font":"Lato","fontSize":22.9,"color":"#1a1a1a","baseline":"alphabetic","dx":41.8,"dy":17},"encoding":{"text":{"field":"t"}}},
 {"width":405,"height":248,
  "layer":[
    {"data":{"name":"brassA"},"mark":{"type":"line","strokeDash":[1,1.5],"strokeWidth":1.3,"color":"#7cbad8","interpolate":"catmull-rom","clip":true},
     "encoding":{
       "x":{"field":"x","type":"quantitative","scale":{"domain":[-6000,8000],"nice":false,"zero":false},"axis":{"values":[-6000,-4000,-2000,0,2000,4000,6000,8000],"format":"d","title":"encoder counts"}},
       "y":{"field":"y","type":"quantitative","scale":{"domain":[-100,100],"nice":false,"zero":false},"axis":{"values":[-100,-80,-60,-40,-20,0,20,40,60,80,100],"format":"d","title":"bending angle"}},
       "detail":{"field":"l"},"order":{"value":null}}},
    {"data":{"name":"brassOut"},"mark":{"type":"point","filled":true,"size":3,"color":"#7e9fb0","opacity":0.9},
     "encoding":{
       "x":{"field":"x","type":"quantitative","scale":{"domain":[-6000,8000],"nice":false,"zero":false},"axis":{"orient":"top","values":[-6000,-4000,-2000,0,2000,4000,6000,8000],"labels":false,"title":null}},
       "y":{"field":"y","type":"quantitative","scale":{"domain":[-100,100],"nice":false,"zero":false},"axis":{"orient":"right","values":[-100,-80,-60,-40,-20,0,20,40,60,80,100],"labels":false,"title":null}}}}
  ],
  "resolve":{"axis":{"x":"independent","y":"independent"}}},
 {"width":407,"height":255,
  "layer":[
    {"data":{"name":"steelA"},"mark":{"type":"line","strokeWidth":0.9,"opacity":0.9,"interpolate":"catmull-rom","clip":true},
     "encoding":{
       "x":{"field":"x","type":"quantitative","scale":{"domain":[-4000,4000],"nice":false,"zero":false},"axis":{"values":[-4000,-3000,-2000,-1000,0,1000,2000,3000,4000],"format":"d","title":"encoder counts","labelFlush":true}},
       "y":{"field":"y","type":"quantitative","scale":{"domain":[-60,60],"nice":false,"zero":false},"axis":{"values":[-60,-40,-20,0,20,40,60],"format":"d","title":"bending angle"}},
       "color":{"field":"l","type":"nominal","legend":null,"scale":{"range":["#2f7fad","#6aa9cc","#3d8db6","#8dc0dc"]}},
       "order":{"value":null}}},
    {"data":{"name":"steelA"},"mark":{"type":"point","opacity":0},
     "encoding":{
       "x":{"field":"x","type":"quantitative","scale":{"domain":[-4000,4000],"nice":false,"zero":false},"axis":{"orient":"top","values":[-4000,-3000,-2000,-1000,0,1000,2000,3000,4000],"labels":false,"title":null}},
       "y":{"field":"y","type":"quantitative","scale":{"domain":[-60,60],"nice":false,"zero":false},"axis":{"orient":"right","values":[-60,-40,-20,0,20,40,60],"labels":false,"title":null}}}}
  ],
  "resolve":{"axis":{"x":"independent","y":"independent"}}}
]
}
